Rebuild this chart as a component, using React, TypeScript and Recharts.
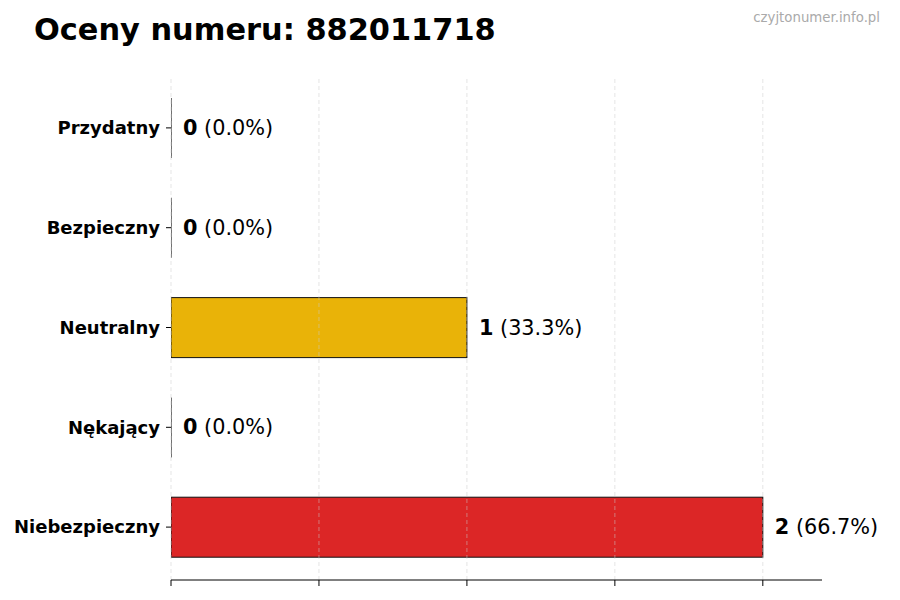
import { BarChart, Bar, XAxis, YAxis, ReferenceLine, Cell, LabelList } from "recharts";

const categories = ["Przydatny", "Bezpieczny", "Neutralny", "Nękający", "Niebezpieczny"];
const counts = [0, 0, 1, 0, 2];
const barColors = ["#22a845", "#2f7de1", "#e9b308", "#f27a1a", "#dc2626"];
const xTicks = [0, 0.5, 1, 1.5, 2];

const FONT = "DejaVu Sans, sans-serif";
const total = counts.reduce((a, b) => a + b, 0);

const data = categories.map((name, i) => ({
  name,
  count: counts[i],
  pct: total ? (counts[i] / total) * 100 : 0,
}));

function BarShape(props: any) {
  const { x, y, width, height, fill } = props;
  if (!width || width <= 0) {
    return <line x1={x} x2={x} y1={y} y2={y + height} stroke="#111" strokeWidth={1.2} />;
  }
  return <rect x={x} y={y} width={width} height={height} fill={fill} stroke="#111" strokeWidth={1} />;
}

function ValueLabel(props: any) {
  const { x, y, width, height, index } = props;
  const d = data[index];
  return (
    <text
      x={Number(x) + Number(width || 0) + 12}
      y={Number(y) + Number(height) / 2}
      dominantBaseline="central"
      fontFamily={FONT}
      fontSize={20.8}
      fill="#000"
    >
      <tspan fontWeight="bold">{d.count}</tspan>
      <tspan> ({d.pct.toFixed(1)}%)</tspan>
    </text>
  );
}

export default function App() {
  return (
    <div style={{ position: "absolute", left: 0, top: 0, width: 900, height: 600, background: "#fff" }}>
      <BarChart
        width={900}
        height={600}
        data={data}
        layout="vertical"
        margin={{ top: 76, right: 78, bottom: 0, left: 0 }}
      >
        <XAxis
          type="number"
          domain={[0, 2.2]}
          ticks={xTicks}
          allowDataOverflow
          tickFormatter={() => ""}
          height={20}
          tickSize={6}
          stroke="#000"
        />
        <YAxis
          type="category"
          dataKey="name"
          width={171}
          axisLine={false}
          tickSize={5}
          tickMargin={6}
          padding={{ top: 2, bottom: 3 }}
          tickLine={{ stroke: "#000" }}
          tick={{ fill: "#000", fontSize: 18, fontWeight: "bold", fontFamily: FONT }}
        />
        <Bar dataKey="count" barSize={60} isAnimationActive={false} shape={BarShape}>
          {data.map((d, i) => (
            <Cell key={d.name} fill={barColors[i]} />
          ))}
          <LabelList dataKey="count" content={ValueLabel} />
        </Bar>
        {/* grid drawn over the bars, like in the original */}
        {xTicks.map((t) => (
          <ReferenceLine
            key={t}
            x={t}
            stroke="#cccccc"
            strokeOpacity={0.5}
            strokeDasharray="4 3"
          />
        ))}
      </BarChart>
      <svg
        width={900}
        height={600}
        style={{ position: "absolute", left: 0, top: 0, pointerEvents: "none" }}
      >
        <text x={34} y={40} fontFamily={FONT} fontSize={30.4} fontWeight="bold" fill="#000">
          Oceny numeru: 882011718
        </text>
        <text x={880} y={22} textAnchor="end" fontFamily={FONT} fontSize={13.3} fill="#aaaaaa">
          czyjtonumer.info.pl
        </text>
      </svg>
    </div>
  );
}
